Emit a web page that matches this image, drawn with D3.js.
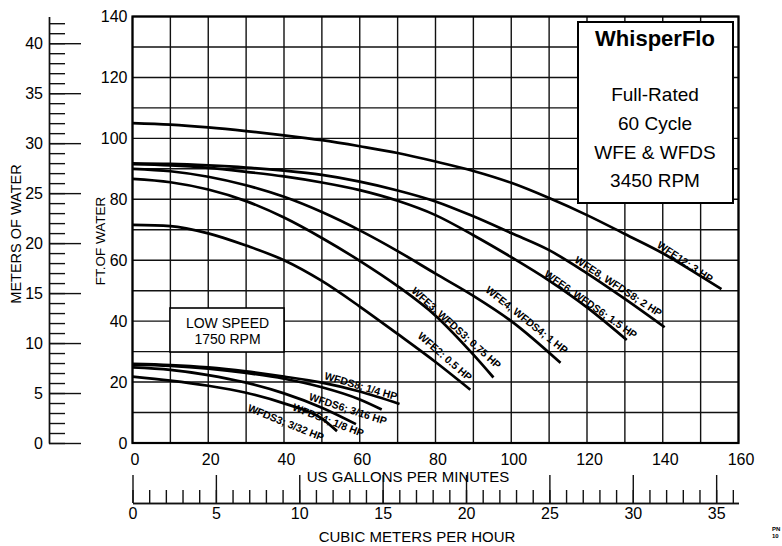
<!DOCTYPE html>
<html><head><meta charset="utf-8">
<script src="https://cdn.jsdelivr.net/npm/d3@7"></script>
<style>
body{margin:0;background:#fff}
svg{display:block}
text{font-family:"Liberation Sans",Arial,Helvetica,sans-serif;fill:#000}
</style></head><body><svg id="c" width="782" height="546"></svg>
<script>
// ---- tick labels ----
const gpmTicks = [0,20,40,60,80,100,120,140,160];
const ftTicks = [0,20,40,60,80,100,120,140];
const meterTicks = [0,5,10,15,20,25,30,35,40];
const meterMinor = d3.range(0,43);
const m3hTicks = [0,5,10,15,20,25,30,35];
const m3hMinor = d3.range(0,37);

// ---- series (flow gpm, head ft) ----
const seriesNames = ["WFE12: 3 HP","WFE8, WFDS8; 2 HP","WFE6, WFDS6; 1.5 HP","WFE4, WFDS4; 1 HP","WFE3, WFDS3; 0.75 HP","WFE2: 0.5 HP",
  "WFDS8; 1/4 HP","WFDS6; 3/16 HP","WFDS4; 1/8 HP","WFDS3; 3/32 HP"];
const WFE12 = [[0,105],[10,104.5],[20,103.6],[30,102.4],[40,101],[50,99.4],[60,97.4],[70,95.2],[80,92.4],[90,89.3],[100,85.4],[110,80.4],[120,74.8],[130,68.6],[140,62.3],[150,54.8],[155.5,50.5]];
const WFE8 = [[0,91.8],[10,91.6],[20,91.1],[30,90.4],[40,89.4],[50,88],[60,85.8],[70,82.9],[80,79.3],[90,74.4],[100,68.9],[110,63.3],[120,55.7],[130,47.3],[140.5,38]];
const WFE6 = [[0,91.5],[10,91.1],[20,90.3],[30,89],[40,87.5],[50,85.5],[60,83],[70,79.5],[80,74.8],[90,68.2],[100,61],[110,53.3],[120,44.5],[130.5,33.8]];
const WFE4 = [[0,90],[10,89.2],[20,87.4],[30,84.6],[40,80.8],[50,75.8],[60,69.8],[70,63],[80,55.6],[90,48.3],[100,40],[113,26.3]];
const WFE3 = [[0,86.7],[10,85.6],[20,83.2],[30,79.4],[40,74],[50,67.3],[60,59.8],[70,51.5],[80,41.8],[90,29],[95.3,21.5]];
const WFE2 = [[0,71.6],[10,71.2],[20,68.8],[30,64.8],[40,60],[50,53.2],[60,44.8],[70,35.8],[80,26.6],[89.2,17.5]];
const WFDS8 = [[0,26],[10,25.6],[20,24.8],[30,23.5],[40,21.8],[50,19.8],[60,16.9],[70.5,12.8]];
const WFDS6 = [[0,25.7],[10,25.3],[20,24.4],[30,23],[40,21.1],[50,18.3],[60,14.3],[65.8,11]];
const WFDS4 = [[0,24.8],[10,24],[20,22.3],[30,19.8],[40,16.3],[50,11.6],[59,6.2]];
const WFDS3 = [[0,21.8],[10,20.5],[20,18.8],[30,16.5],[40,13],[50,8],[54,3.9]];
const seriesValues = [WFE12,WFE8,WFE6,WFE4,WFE3,WFE2,WFDS8,WFDS6,WFDS4,WFDS3];

// ---- label layout (centre in data units, rotation deg) ----
const labelLayout = [
  {q:145.9,h:59.5,a:34},{q:128.3,h:51.4,a:33},{q:121,h:45.5,a:35},{q:104.1,h:40.4,a:38.5},
  {q:85.5,h:37.8,a:42},{q:82.5,h:28.4,a:41},{q:60.3,h:18.7,a:16.5},{q:56.9,h:11.2,a:18},
  {q:51.7,h:7.5,a:21},{q:40.5,h:6.7,a:22}];

const svg = d3.select("#c");
const x = d3.scaleLinear().domain([0,160]).range([132.5,738.5]);
const y = d3.scaleLinear().domain([0,140]).range([443,16.5]);
const xM3 = d3.scaleLinear().domain([0,160/4.40287]).range([132.5,738.5]);
const yM = d3.scaleLinear().domain([0,140/3.28084]).range([443,16.5]);

// grid
const grid = svg.append("g").attr("stroke","#111").attr("stroke-width",1.4);
grid.selectAll(".vg").data(d3.range(0,161,10)).join("line")
  .attr("x1",d=>x(d)).attr("x2",d=>x(d)).attr("y1",y(0)).attr("y2",y(140));
grid.selectAll(".hg").data(d3.range(0,141,10)).join("line")
  .attr("y1",d=>y(d)).attr("y2",d=>y(d)).attr("x1",x(0)).attr("x2",x(160));
svg.append("rect").attr("x",x(0)).attr("y",y(140)).attr("width",x(160)-x(0)).attr("height",y(0)-y(140))
  .attr("fill","none").attr("stroke","#000").attr("stroke-width",2.2);

// ft axis labels
const ax1 = svg.append("g").attr("transform",`translate(${x(0)},0)`)
  .call(d3.axisLeft(y).tickValues(ftTicks).tickSize(0).tickPadding(5));
ax1.select(".domain").remove();
ax1.selectAll("text").attr("font-size",16).attr("font-family",null);
// gpm axis labels
const ax2 = svg.append("g").attr("transform",`translate(0,${y(0)})`)
  .call(d3.axisBottom(x).tickValues(gpmTicks).tickSize(0).tickPadding(10.5));
ax2.select(".domain").remove();
ax2.selectAll("text").attr("font-size",16).attr("font-family",null).attr("dx",2);

// meters axis
const mx = 49;
const am1 = svg.append("g").attr("transform",`translate(${mx},0)`)
  .call(d3.axisLeft(yM).tickValues(meterMinor).tickSizeInner(-16).tickSizeOuter(0).tickFormat(""));
const am2 = svg.append("g").attr("transform",`translate(${mx},0)`)
  .call(d3.axisLeft(yM).tickValues(meterTicks).tickSizeInner(-32).tickSizeOuter(0).tickPadding(6));
[am1,am2].forEach(a=>{a.selectAll("line,path").attr("stroke","#111").attr("stroke-width",1.4);});
am2.selectAll("text").attr("font-size",16).attr("font-family",null);

// cubic meters axis
const cy = 503;
const ac1 = svg.append("g").attr("transform",`translate(0,${cy})`)
  .call(d3.axisBottom(xM3).tickValues(m3hMinor).tickSizeInner(-13).tickSizeOuter(0).tickFormat(""));
const ac2 = svg.append("g").attr("transform",`translate(0,${cy})`)
  .call(d3.axisBottom(xM3).tickValues(m3hTicks).tickSizeInner(-28).tickSizeOuter(0).tickPadding(5));
[ac1,ac2].forEach(a=>{a.selectAll("line,path").attr("stroke","#111").attr("stroke-width",1.4);});
ac2.selectAll("text").attr("font-size",16).attr("font-family",null);

// axis titles
svg.append("text").attr("transform","translate(21,234) rotate(-90)").attr("text-anchor","middle")
  .attr("font-size",14.5).text("METERS OF WATER");
svg.append("text").attr("transform","translate(105,241) rotate(-90)").attr("text-anchor","middle")
  .attr("font-size",13.5).text("FT.OF WATER");
svg.append("text").attr("x",408).attr("y",482).attr("text-anchor","middle").attr("font-size",15).text("US GALLONS PER MINUTES");
svg.append("text").attr("x",417).attr("y",542).attr("text-anchor","middle").attr("font-size",15).text("CUBIC METERS PER HOUR");

// curves
const line = d3.line().x(d=>x(d[0])).y(d=>y(d[1])).curve(d3.curveMonotoneX);
svg.append("g").selectAll("path").data(seriesValues).join("path")
  .attr("d",line).attr("fill","none").attr("stroke","#000").attr("stroke-width",2.7);

// curve labels
svg.append("g").selectAll("text").data(seriesNames).join("text")
  .attr("transform",(d,i)=>`translate(${x(labelLayout[i].q)},${y(labelLayout[i].h)}) rotate(${labelLayout[i].a})`)
  .attr("text-anchor","middle").attr("dy","0.35em").attr("font-size",10.5).attr("font-weight","bold")
  .text(d=>d);

// title box
svg.append("rect").attr("x",578).attr("y",22).attr("width",155).attr("height",181)
  .attr("fill","#fff").attr("stroke","#000").attr("stroke-width",2);
svg.append("text").attr("x",655).attr("y",46).attr("text-anchor","middle").attr("font-size",22).attr("font-weight","bold").text("WhisperFlo");
["Full-Rated","60 Cycle","WFE & WFDS","3450 RPM"].forEach((t,i)=>{
  svg.append("text").attr("x",655).attr("y",101+i*28.8).attr("text-anchor","middle").attr("font-size",19).text(t);
});
// low speed box
svg.append("rect").attr("x",170).attr("y",308).attr("width",114).attr("height",44)
  .attr("fill","#fff").attr("stroke","#000").attr("stroke-width",1.6);
svg.append("text").attr("x",227.5).attr("y",327.5).attr("text-anchor","middle").attr("font-size",14).text("LOW SPEED");
svg.append("text").attr("x",227.5).attr("y",344).attr("text-anchor","middle").attr("font-size",14).text("1750 RPM");

// tiny corner note
svg.append("text").attr("x",772).attr("y",531).attr("font-size",6).attr("font-weight","bold").text("PN");
svg.append("text").attr("x",772).attr("y",538).attr("font-size",6).attr("font-weight","bold").text("10");
</script></body></html>
